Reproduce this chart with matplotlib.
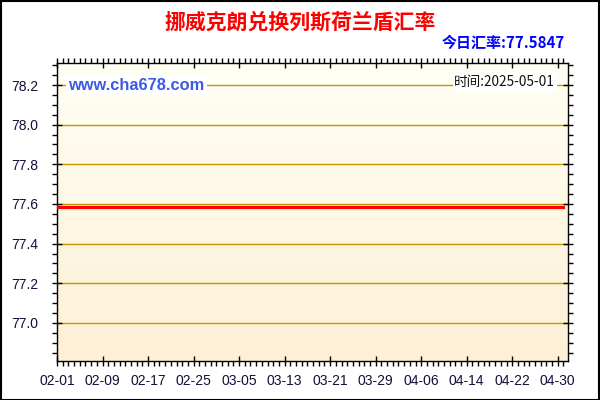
import numpy as np
import pandas as pd
import matplotlib
matplotlib.use("Agg")
import matplotlib.pyplot as plt
import matplotlib.dates as mdates
from matplotlib.ticker import MultipleLocator
from matplotlib.colors import LinearSegmentedColormap

plt.rcParams['font.family'] = ['Liberation Sans', 'Noto Sans CJK SC', 'DejaVu Sans']

# data (flat rate over the whole period)
dates = pd.to_datetime(['2025-02-01', '2025-05-01'])
rates = [77.5847, 77.5847]
title = '挪威克朗兑换列斯荷兰盾汇率'
today_rate = '今日汇率:77.5847'
site = 'www.cha678.com'
stamp = '时间:2025-05-01'
x_ticks = pd.date_range('2025-02-01', '2025-04-30', freq='8D')
y_ticks = [77.0, 77.2, 77.4, 77.6, 77.8, 78.0, 78.2]

fig = plt.figure(figsize=(6, 4), dpi=100)
fig.patch.set_facecolor('white')
# frame around the whole picture
fig.add_artist(plt.Rectangle((0.001, 0.001), 0.998, 0.997, transform=fig.transFigure,
                             fill=False, edgecolor='black', linewidth=1.5))

ax = fig.add_axes([0.095, 0.0975, 0.8517, 0.745])

x0 = mdates.date2num(pd.Timestamp('2025-02-01'))
x1 = x0 + 89.8
ymin, ymax = 76.808, 78.311
ax.set_xlim(x0, x1)
ax.set_ylim(ymin, ymax)

# gradient background
cmap = LinearSegmentedColormap.from_list('bg', ['#fdf0d6', '#fffff4'])
grad = np.linspace(0, 1, 256).reshape(-1, 1)
ax.imshow(grad, extent=[x0, x1, ymin, ymax], origin='lower', aspect='auto',
          cmap=cmap, zorder=0)

for y in y_ticks:
    ax.axhline(y, color='#c89200', linewidth=1, zorder=1)

ax.plot(dates, rates, color='#ff0000', linewidth=2.3, zorder=3)

ax.set_xticks(x_ticks)
ax.xaxis.set_major_formatter(mdates.DateFormatter('%m-%d'))
ax.xaxis.set_minor_locator(mdates.DayLocator())
ax.set_yticks(y_ticks)
ax.yaxis.set_major_formatter(matplotlib.ticker.FormatStrFormatter('%.1f'))
ax.yaxis.set_minor_locator(MultipleLocator(0.05))

lab_col = '#10103a'
ax.tick_params(axis='both', which='major', direction='inout', length=7, width=1,
               labelsize=10, labelcolor=lab_col, top=True, right=True)
ax.tick_params(axis='both', which='minor', direction='out', length=3.5, width=1,
               top=True, right=True)
ax.tick_params(axis='x', which='major', pad=6)
ax.tick_params(axis='y', which='major', pad=10)
for s in ax.spines.values():
    s.set_color('black')
    s.set_linewidth(1)

fig.text(0.5, 0.945, title, color='#ff0000', fontsize=15, fontweight='bold',
         ha='center', va='center', family=['Noto Sans CJK SC', 'DejaVu Sans'])
fig.text(0.942, 0.893, today_rate, color='#0000ff', fontsize=10.8, fontweight='bold',
         ha='right', va='center', family=['Noto Sans CJK SC', 'DejaVu Sans'])

ax.text(0.022, 0.926, site, transform=ax.transAxes, color='#3a5ae8', fontsize=11.8,
        fontweight='bold', ha='left', va='center', zorder=4,
        bbox=dict(facecolor='white', edgecolor='none', pad=1.5))
ax.text(0.975, 0.935, stamp, transform=ax.transAxes, color='#111111', fontsize=9.8,
        ha='right', va='center', zorder=4, family=['Noto Sans CJK SC', 'DejaVu Sans'],
        bbox=dict(facecolor='white', edgecolor='none', pad=1))

fig.savefig('out.png', dpi=100)
